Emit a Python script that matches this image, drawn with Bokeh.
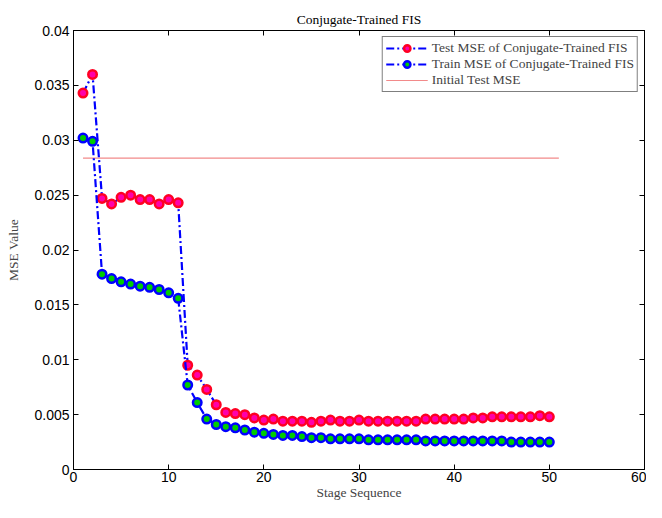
from bokeh.plotting import figure
from bokeh.models import LinearAxis, FixedTicker, CustomJSTickFormatter, Range1d, Legend, LegendItem
from bokeh.embed import file_html
from bokeh.resources import INLINE

stages = list(range(1, 51))
test_mse = [0.0343, 0.0360, 0.0247, 0.0242, 0.0248, 0.0250, 0.0246, 0.0246, 0.0242, 0.0246,
            0.0243, 0.0095, 0.0086, 0.0073, 0.0059, 0.0052, 0.0051, 0.0050, 0.0047, 0.0045,
            0.0046, 0.0044, 0.0044, 0.0044, 0.0043, 0.0044, 0.0045, 0.0044, 0.0044, 0.0045,
            0.0044, 0.0044, 0.0044, 0.0044, 0.0044, 0.0044, 0.0046, 0.0046, 0.0046, 0.0046,
            0.0046, 0.0047, 0.0047, 0.0048, 0.0048, 0.0048, 0.0048, 0.0048, 0.0049, 0.0048]
train_mse = [0.0302, 0.0299, 0.0178, 0.0174, 0.0171, 0.0169, 0.0167, 0.0166, 0.0164, 0.0161,
             0.0156, 0.0077, 0.0061, 0.0046, 0.0041, 0.0039, 0.0038, 0.0036, 0.0034, 0.0033,
             0.0032, 0.0031, 0.0031, 0.0030, 0.0029, 0.0029, 0.0028, 0.0028, 0.0028, 0.0028,
             0.0027, 0.0027, 0.0027, 0.0027, 0.0027, 0.0027, 0.0026, 0.0026, 0.0026, 0.0026,
             0.0026, 0.0026, 0.0026, 0.0026, 0.0026, 0.0025, 0.0025, 0.0025, 0.0025, 0.0025]
initial_x = [1, 51]
initial_test_mse = [0.02838, 0.02838]
x_ticks = [0, 10, 20, 30, 40, 50, 60]
y_ticks = [0, 0.005, 0.01, 0.015, 0.02, 0.025, 0.03, 0.035, 0.04]

p = figure(width=646, height=502, output_backend="svg", toolbar_location=None,
           x_range=Range1d(0, 60), y_range=Range1d(0, 0.04),
           title="Conjugate-Trained FIS",
           min_border_left=73, min_border_right=2, min_border_top=30, min_border_bottom=2)
p.title.align = "center"
p.title.text_font = "Liberation Serif"
p.title.text_font_style = "normal"
p.title.text_font_size = "13.5px"
p.title.text_color = "black"
p.title.standoff = 8
p.xgrid.visible = False
p.ygrid.visible = False
p.outline_line_color = "black"
p.outline_line_width = 1

fmt = CustomJSTickFormatter(code="""
var s = tick.toFixed(3);
s = s.replace(/0+$/, '').replace(/\\.$/, '');
return s;
""")
blank = CustomJSTickFormatter(code="return '';")

for ax in [p.xaxis[0], p.yaxis[0]]:
    ax.major_tick_in = 5
    ax.major_tick_out = 0
    ax.minor_tick_in = 0
    ax.minor_tick_out = 0
    ax.major_label_text_font = "Liberation Sans"
    ax.major_label_text_font_size = "14px"
    ax.major_label_text_color = "black"
    ax.axis_label_text_font = "Liberation Serif"
    ax.axis_label_text_font_style = "normal"
    ax.axis_label_text_font_size = "13.5px"
    ax.axis_line_color = "black"
p.xaxis[0].ticker = FixedTicker(ticks=x_ticks)
p.yaxis[0].ticker = FixedTicker(ticks=y_ticks)
p.yaxis[0].formatter = fmt
p.xaxis.axis_label = "Stage Sequence"
p.yaxis.axis_label = "MSE Value"
p.xaxis[0].axis_label_standoff = 0
p.xaxis[0].major_label_standoff = 2
p.yaxis[0].major_label_standoff = 4
p.yaxis[0].axis_label_standoff = 10

top = LinearAxis(ticker=FixedTicker(ticks=x_ticks), formatter=blank,
                 major_label_text_font_size="0px",
                 major_tick_in=5, major_tick_out=0, minor_tick_in=0, minor_tick_out=0,
                 major_label_standoff=0)
right = LinearAxis(ticker=FixedTicker(ticks=y_ticks), formatter=blank,
                   major_label_text_font_size="0px",
                   major_tick_in=5, major_tick_out=0, minor_tick_in=0, minor_tick_out=0,
                   major_label_standoff=0)
p.add_layout(top, "above")
p.add_layout(right, "right")

r_init = p.line(initial_x, initial_test_mse, line_color="#f28a8a", line_width=1.2)

l_test = p.line(stages, test_mse, line_color="#0000ff", line_width=2.2, line_dash="8 3 2 3")
c_test = p.scatter(stages, test_mse, size=8.5, fill_color="#ff00aa", line_color="#ff0022", line_width=2.5)
l_train = p.line(stages, train_mse, line_color="#0000ff", line_width=2.2, line_dash="8 3 2 3")
c_train = p.scatter(stages, train_mse, size=8.5, fill_color="#00cc00", line_color="#0000ff", line_width=2.5)

legend = Legend(items=[
    LegendItem(label="Test MSE of Conjugate-Trained FIS", renderers=[l_test, c_test]),
    LegendItem(label="Train MSE of Conjugate-Trained FIS", renderers=[l_train, c_train]),
    LegendItem(label="Initial Test MSE", renderers=[r_init]),
], location="top_right")
legend.label_text_font = "Liberation Serif"
legend.label_text_font_size = "13.5px"
legend.label_height = 16
legend.glyph_height = 16
legend.glyph_width = 42
legend.label_standoff = 4
legend.spacing = 0
legend.padding = 3
legend.margin = 6
legend.border_line_color = "black"
legend.border_line_width = 1
legend.background_fill_alpha = 1
p.add_layout(legend)

open("out.html", "w").write(file_html(p, INLINE))
